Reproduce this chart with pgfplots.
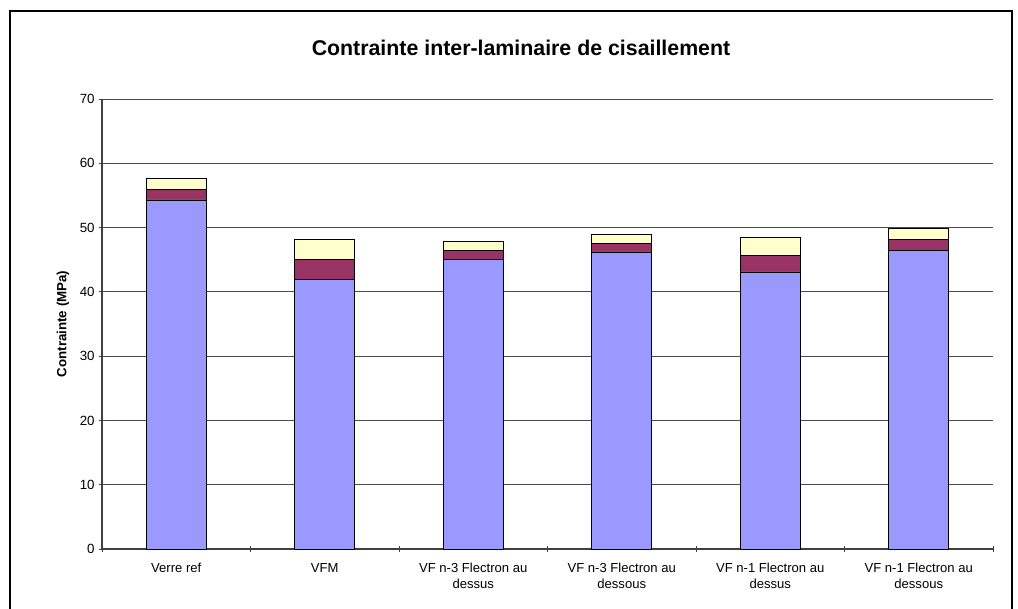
\documentclass[border=0pt]{standalone}
\usepackage{pgfplots}
\pgfplotsset{compat=1.18}
\usepackage{fontspec}
\setmainfont{Liberation Sans}
\definecolor{cblue}{HTML}{9999FF}
\definecolor{cred}{HTML}{993366}
\definecolor{cyel}{HTML}{FFFFCC}
\begin{document}
\begin{tikzpicture}
\path[use as bounding box] (0pt,0pt) rectangle (763.5pt,456.75pt);
\draw[line width=1.5pt] (7.5pt,-4pt) -- (7.5pt,448.5pt) -- (759pt,448.5pt) -- (759pt,-4pt);
\node[font=\fontsize{16}{18}\selectfont\bfseries] at (390.75pt,420.5pt) {Contrainte inter-laminaire de cisaillement};
\begin{axis}[
  at={(76.5pt,45pt)}, anchor=south west,
  width=668.25pt, height=337.5pt, scale only axis,
  ymin=0, ymax=70, ytick={0,10,...,70},
  xmin=-0.5, xmax=5.5,
  xtick={0,...,5},
  xticklabels={Verre ref, VFM, {VF n-3 Flectron au\\dessus}, {VF n-3 Flectron au\\dessous}, {VF n-1 Flectron au\\dessus}, {VF n-1 Flectron au\\dessous}},
  minor xtick={-0.5,0.5,...,5.5},
  major x tick style={draw=none},
  tick align=outside,
  major tick length=4pt, minor tick length=4pt,
  axis x line=bottom, axis y line=left,
  axis line style={-, black!75, line width=0.8pt},
  every tick/.style={black!75, line width=0.6pt},
  ymajorgrids, major grid style={black!70, line width=0.6pt},
  ybar stacked, bar width=45pt,
  xticklabel style={font=\fontsize{9.8}{12}\selectfont, align=center, yshift=-5pt},
  yticklabel style={font=\fontsize{10}{12}\selectfont},
  /pgf/number format/assume math mode=true,
  ylabel={Contrainte (MPa)},
  every axis y label/.style={at={(axis description cs:0,0.5)}, rotate=90, anchor=center, yshift=29.25pt, font=\fontsize{10}{12}\selectfont\bfseries},
  clip=false,
]
\addplot[fill=cblue, draw=black, line width=0.6pt] coordinates {(0,54.3) (1,41.9) (2,45.1) (3,46.2) (4,43.1) (5,46.4)};
\addplot[fill=cred, draw=black, line width=0.6pt] coordinates {(0,1.6) (1,3.1) (2,1.3) (3,1.3) (4,2.6) (5,1.7)};
\addplot[fill=cyel, draw=black, line width=0.6pt] coordinates {(0,1.8) (1,3.1) (2,1.5) (3,1.5) (4,2.7) (5,1.7)};
\end{axis}
\end{tikzpicture}
\end{document}
